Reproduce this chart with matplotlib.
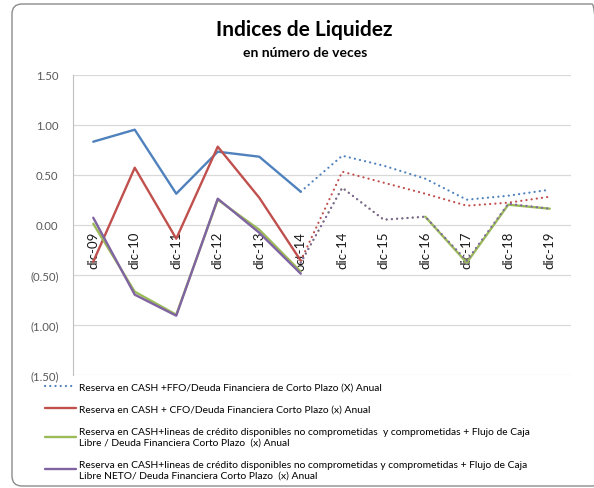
import matplotlib
matplotlib.use("Agg")
import matplotlib.pyplot as plt
from matplotlib.patches import FancyBboxPatch
from matplotlib.ticker import FuncFormatter, MultipleLocator

plt.rcParams["font.family"] = ["Lato", "DejaVu Sans"]

# categorias del eje x
periodos = ["dic-09", "dic-10", "dic-11", "dic-12", "dic-13", "oct-14",
            "dic-14", "dic-15", "dic-16", "dic-17", "dic-18", "dic-19"]

# valores reales (dic-09 .. oct-14)
ffo_real = [0.83, 0.95, 0.31, 0.73, 0.68, 0.33]
cfo_real = [-0.37, 0.57, -0.14, 0.78, 0.27, -0.36]
fcl_real = [0.01, -0.67, -0.90, 0.25, -0.05, -0.47]
fcl_neto_real = [0.07, -0.70, -0.91, 0.26, -0.08, -0.49]

# proyecciones (oct-14 .. dic-19)
ffo_proy = [0.33, 0.69, 0.59, 0.46, 0.25, 0.29, 0.35]
cfo_proy = [-0.36, 0.53, 0.42, 0.31, 0.19, 0.22, 0.28]
fcl_proy = [-0.38, 0.37, 0.05, 0.08, -0.38, 0.20, 0.16]
fcl_neto_proy = [-0.38, 0.37, 0.05, 0.08, -0.36, 0.21, 0.16]

etiquetas = [
    "Reserva en CASH +FFO/Deuda Financiera de Corto Plazo (X) Anual",
    "Reserva en CASH + CFO/Deuda Financiera Corto Plazo (x) Anual",
    "Reserva en CASH+lineas de crédito disponibles no comprometidas  y comprometidas + Flujo de Caja\n"
    "Libre / Deuda Financiera Corto Plazo  (x) Anual",
    "Reserva en CASH+lineas de crédito disponibles no comprometidas y comprometidas + Flujo de Caja\n"
    "Libre NETO/ Deuda Financiera Corto Plazo  (x) Anual",
]

azul = "#4F81BD"
rojo = "#C0504D"
verde = "#9BBB59"
violeta = "#8064A2"

x = list(range(len(periodos)))
x_real = x[:len(ffo_real)]
x_proy = x[len(ffo_real) - 1:]

fig = plt.figure(figsize=(5.94, 4.89), dpi=100)
ax = fig.add_axes([72.5 / 594, 1 - 375.7 / 489, 498 / 594, 300 / 489])

lw = 1.7
punteado = dict(lw=1.6, linestyle=(0, (0.05, 2.3)), dash_capstyle="round")

ax.plot(x_real, ffo_real, color=azul, lw=lw, solid_capstyle="round")
l_ffo, = ax.plot(x_proy, ffo_proy, color=azul, **punteado)

l_cfo, = ax.plot(x_real, cfo_real, color=rojo, lw=lw, solid_capstyle="round")
ax.plot(x_proy, cfo_proy, color=rojo, **punteado)

l_fcl, = ax.plot(x_real, fcl_real, color=verde, lw=lw, solid_capstyle="round")
ax.plot(x_proy[:4], fcl_proy[:4], color=verde, **punteado)
ax.plot(x_proy[3:], fcl_proy[3:], color=verde, lw=lw, solid_capstyle="round")

l_neto, = ax.plot(x_real, fcl_neto_real, color=violeta, lw=lw, solid_capstyle="round")
ax.plot(x_proy, fcl_neto_proy, color=violeta, **punteado)

ax.set_xlim(-0.5, len(periodos) - 0.5)
ax.set_ylim(-1.5, 1.5)
ax.spines["bottom"].set_position(("data", 0))
ax.spines["bottom"].set_visible(False)
ax.spines["top"].set_visible(False)
ax.spines["right"].set_visible(False)
ax.spines["left"].set_color("#bfbfbf")

ax.yaxis.set_major_locator(MultipleLocator(0.5))
ax.yaxis.set_major_formatter(FuncFormatter(
    lambda v, p: f"{v:.2f}" if v >= 0 else f"({abs(v):.2f})"))
ax.grid(axis="y", color="#d9d9d9", lw=0.9)
ax.set_axisbelow(True)

ax.set_xticks(x)
ax.set_xticklabels(periodos)
ax.tick_params(axis="x", length=0, pad=4.5, labelrotation=90, labelsize=9.5,
               labelcolor="#1a1a1a")
ax.tick_params(axis="y", length=0, pad=10, labelsize=8.2, labelcolor="#595959")

fig.text(0.513, 1 - 30 / 489, "Indices de Liquidez", ha="center", va="center",
         fontsize=15, fontweight="bold")
fig.text(0.513, 1 - 53 / 489, "en número de veces", ha="center", va="center",
         fontsize=10, fontweight="bold")

fig.legend([l_ffo, l_cfo, l_fcl, l_neto], etiquetas, loc="upper left",
           bbox_to_anchor=(45 / 594, 1 - 383 / 489), frameon=False, fontsize=7.4,
           handlelength=3.0, handletextpad=0.35, labelspacing=1.3,
           borderpad=0, borderaxespad=0)

borde = FancyBboxPatch((12, 2), 590, 482, boxstyle="round,pad=0,rounding_size=10",
                       transform=None, fill=False, edgecolor="#8c8c8c", lw=1.0)
fig.patches.append(borde)

fig.savefig("out.png", dpi=100)
